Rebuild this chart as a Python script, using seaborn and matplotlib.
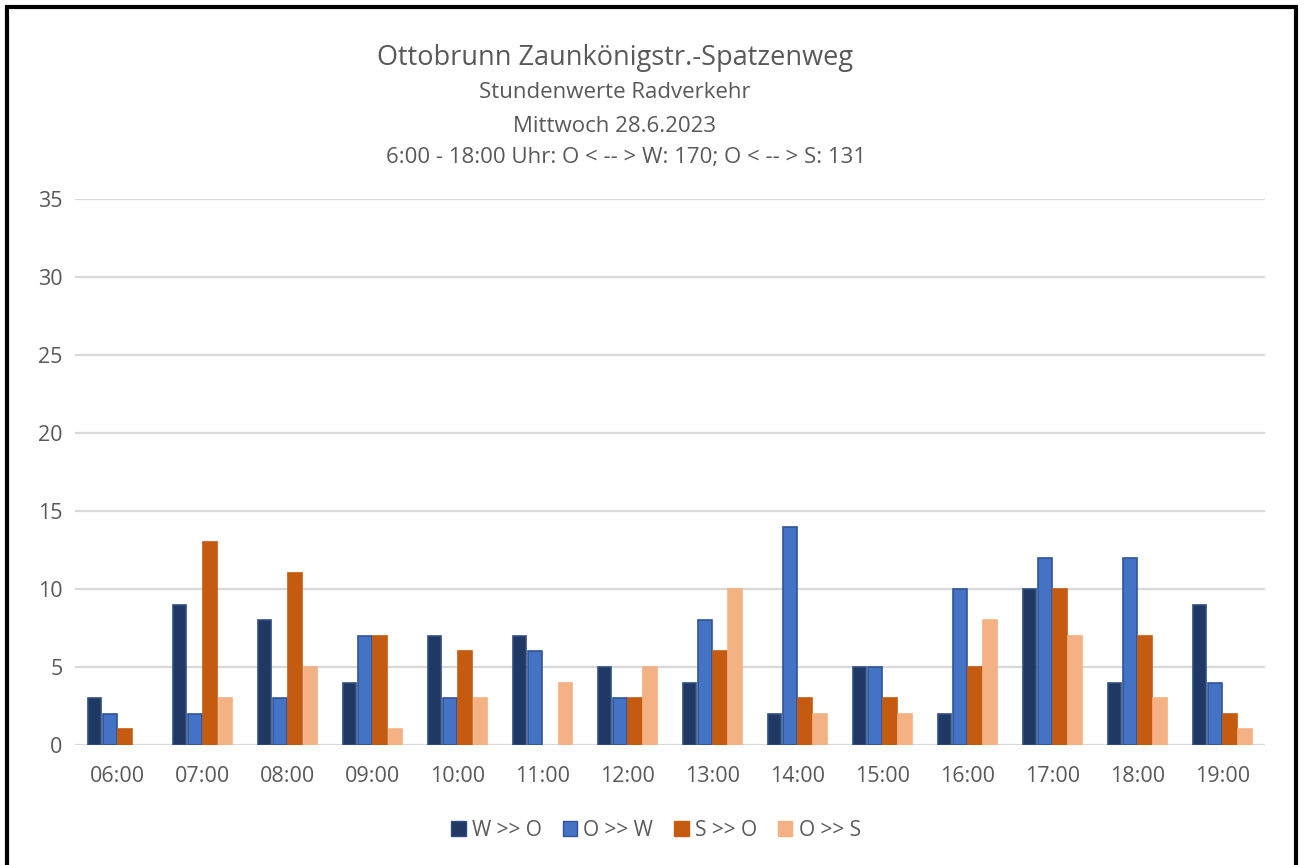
import numpy as np
import pandas as pd
import matplotlib
matplotlib.use("Agg")
import matplotlib.pyplot as plt
import seaborn as sns
from matplotlib.patches import Rectangle, Patch

# ---------------- data ----------------
hours = ["06:00", "07:00", "08:00", "09:00", "10:00", "11:00", "12:00",
         "13:00", "14:00", "15:00", "16:00", "17:00", "18:00", "19:00"]
series = ["W >> O", "O >> W", "S >> O", "O >> S"]
w_to_o = [3, 9, 8, 4, 7, 7, 5, 4, 2, 5, 2, 10, 4, 9]
o_to_w = [2, 2, 3, 7, 3, 6, 3, 8, 14, 5, 10, 12, 12, 4]
s_to_o = [1, 13, 11, 7, 6, 0, 3, 6, 3, 3, 5, 10, 7, 2]
o_to_s = [0, 3, 5, 1, 3, 4, 5, 10, 2, 2, 8, 7, 3, 1]

colors = ["#203864", "#4472C4", "#C55A11", "#F4B183"]
edges = ["#2F4E80", "#2F5597", "#C55A11", "#F4B183"]
text_grey = "#595959"

df = pd.DataFrame({
    "Stunde": hours * 4,
    "Richtung": np.repeat(series, len(hours)),
    "Anzahl": w_to_o + o_to_w + s_to_o + o_to_s,
})

sns.set_theme(style="white")
plt.rcParams["font.family"] = ["Open Sans", "DejaVu Sans"]

fig = plt.figure(figsize=(13.04, 8.65), dpi=100)
ax = fig.add_axes([0.0575, 0.1387, 0.9125, 0.6313])

sns.barplot(data=df, x="Stunde", y="Anzahl", hue="Richtung",
            palette=colors, width=0.72, gap=0.1, ax=ax, legend=False,
            saturation=1, zorder=3)

# Excel-like thin outline, hide empty bars
for container, ec in zip(ax.containers, edges):
    for bar in container:
        if bar.get_height() == 0:
            bar.set_visible(False)
        bar.set_edgecolor(ec)
        bar.set_linewidth(1.2)

ax.set_ylim(0, 35)
ax.set_yticks(range(0, 36, 5))
ax.set_xlim(-0.5, len(hours) - 0.5)
ax.yaxis.grid(True, color="#D9D9D9", linewidth=1.6, zorder=0)
ax.xaxis.grid(False)
for s in ax.spines.values():
    s.set_visible(False)
ax.set_xlabel("")
ax.set_ylabel("")
ax.tick_params(axis="both", length=0, labelsize=15.5, colors=text_grey)
ax.tick_params(axis="x", pad=15)
ax.tick_params(axis="y", pad=9)

# titles
cx = 0.4716
fig.text(cx, 1 - 58 / 865, "Ottobrunn Zaunkönigstr.-Spatzenweg", ha="center",
         va="center", fontsize=19.5, color=text_grey)
fig.text(cx, 1 - 93 / 865, "Stundenwerte Radverkehr", ha="center",
         va="center", fontsize=16, color=text_grey)
fig.text(cx, 1 - 126 / 865, "Mittwoch 28.6.2023", ha="center",
         va="center", fontsize=16, color=text_grey)
fig.text(0.48, 1 - 158 / 865, "6:00 - 18:00 Uhr: O < -- > W: 170; O < -- > S: 131",
         ha="center", va="center", fontsize=16, color=text_grey)

# legend
handles = [Patch(facecolor=c, edgecolor=e, label=l)
           for c, e, l in zip(colors, edges, series)]
fig.legend(handles=handles, loc="center", bbox_to_anchor=(0.503, 1 - 830 / 865),
           ncol=4, frameon=False, fontsize=15, labelcolor=text_grey,
           handlelength=0.7, handleheight=0.7, handletextpad=0.3,
           columnspacing=1.0)

# outer black frame
fig.patches.append(Rectangle((7 / 1304, -0.1), 1289 / 1304, 1.1 - 7 / 865,
                             transform=fig.transFigure, fill=False,
                             edgecolor="black", linewidth=3))

fig.savefig("out.png", dpi=100, facecolor="white")
